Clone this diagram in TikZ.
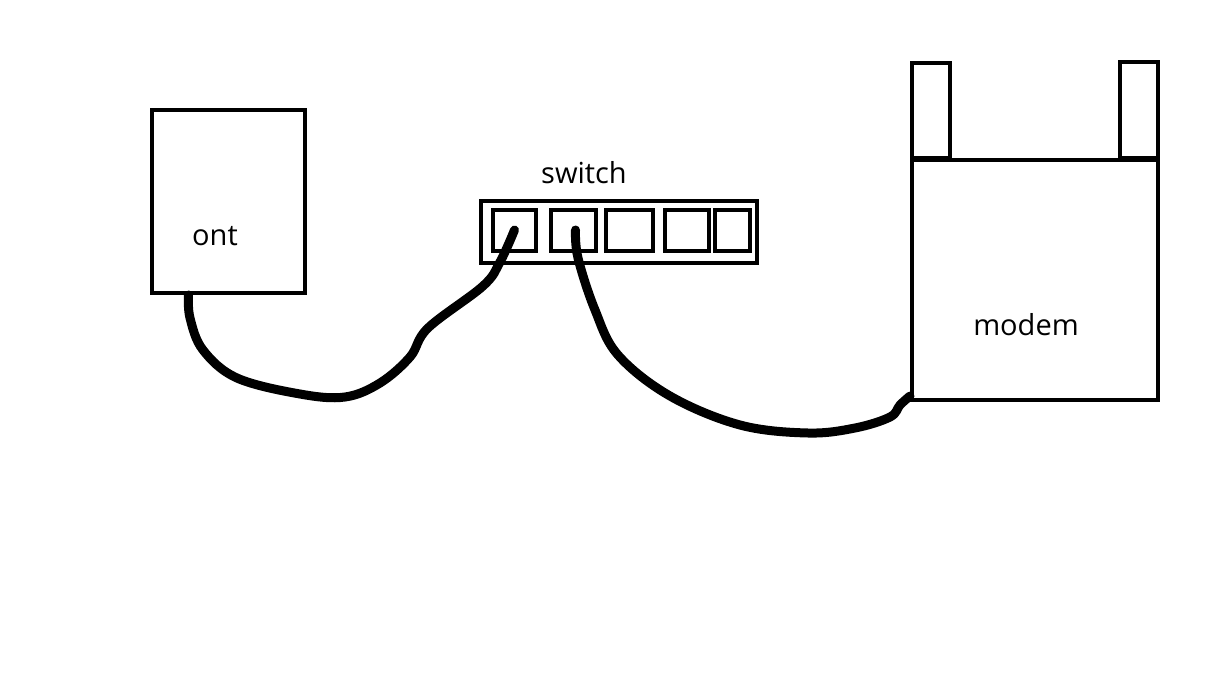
\documentclass[tikz,border=0pt]{standalone}
\usepackage{fontspec}
\setmainfont{Open Sans}
\begin{document}
\begin{tikzpicture}[x=1pt,y=-1pt,
  box/.style={draw,line width=4pt,inner sep=0pt},
  port/.style={box,minimum height=41pt},
  lbl/.style={font=\fontsize{29}{34}\selectfont,anchor=base,inner sep=0pt},
  cable/.style={line width=9pt,line cap=round,line join=round}]
\useasboundingbox (0,0) rectangle (1230,698);

\node[box,minimum width=153pt,minimum height=183pt] (ont) at (228.5,201.5) {};
\node[lbl] (ontlbl) at (215,245) {ont};

\node[box,minimum width=276pt,minimum height=62pt] (switch) at (619,231.5) {};
\node[lbl] (switchlbl) at (584,183) {switch};
\node[port,minimum width=43pt] (port1) at (514.5,230) {};
\node[port,minimum width=45pt] (port2) at (573.5,230) {};
\node[port,minimum width=47pt] (port3) at (629.5,230) {};
\node[port,minimum width=44pt] (port4) at (687,230) {};
\node[port,minimum width=35pt] (port5) at (732.5,230) {};

\node[box,minimum width=246pt,minimum height=240pt] (modem) at (1035,280) {};
\node[box,minimum width=38pt,minimum height=95pt,anchor=south] (antL) at (931,160) {};
\node[box,minimum width=38pt,minimum height=96pt,anchor=south] (antR) at (1139,160) {};
\node[lbl] (modemlbl) at (1026,335) {modem};

\draw[cable] plot[smooth,tension=0.6] coordinates {([xshift=-40pt]ont.south) (190,318) (203,350) (237,378) (300,394) (345,397) (380,383) (410,357) (428,328) (483,286) (500,262) (port1.center)};
\draw[cable] plot[smooth,tension=0.6] coordinates {([xshift=2pt]port2.center) (578,258) (595,310) (618,355) (670,396) (740,425) (808,433) (855,428) (890,417) (900,405) ([yshift=6pt]modem.south west)};
\end{tikzpicture}
\end{document}
